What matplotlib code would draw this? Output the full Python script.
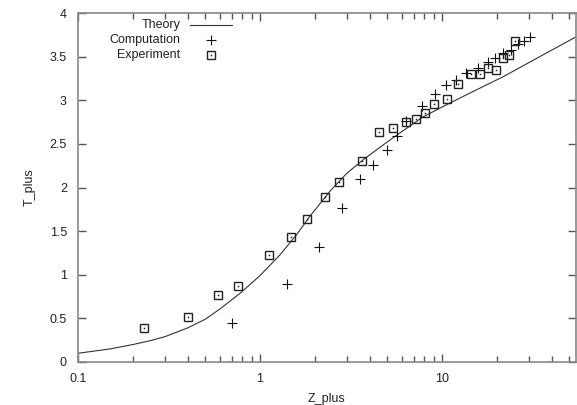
import matplotlib
matplotlib.use("Agg")
import matplotlib.pyplot as plt
from matplotlib.ticker import FixedLocator, LogLocator, NullFormatter, FixedFormatter

plt.rcParams["font.family"] = ["Liberation Sans", "DejaVu Sans"]

# theory curve
theory_z = [0.1, 0.15, 0.2, 0.25, 0.3, 0.4, 0.5, 0.6, 0.78, 1.0, 1.29, 1.59, 1.88, 2.43,
            2.99, 3.70, 4.56, 5.64, 7.88, 11.1, 16.2, 21.7, 33.1, 54.9]
theory_t = [0.10, 0.15, 0.20, 0.245, 0.29, 0.39, 0.49, 0.605, 0.79, 0.99, 1.23, 1.46, 1.67, 1.96,
            2.16, 2.32, 2.46, 2.60, 2.81, 2.97, 3.14, 3.27, 3.48, 3.73]

comp_z = [0.70, 1.41, 2.11, 2.83, 3.54, 4.18, 4.99, 5.66, 6.34, 7.76, 9.16, 10.5, 11.9,
          13.5, 15.8, 17.9, 19.5, 21.6, 23.9, 26.2, 28.3, 30.5]
comp_t = [0.45, 0.89, 1.32, 1.77, 2.10, 2.26, 2.43, 2.59, 2.76, 2.93, 3.07, 3.17, 3.23,
          3.31, 3.37, 3.44, 3.48, 3.54, 3.58, 3.64, 3.68, 3.72]

exp_z = [0.23, 0.40, 0.59, 0.76, 1.12, 1.48, 1.81, 2.28, 2.72, 3.63, 4.51, 5.38, 6.34, 7.19,
         8.07, 9.04, 10.6, 12.2, 14.4, 16.2, 17.9, 19.8, 21.6, 23.3, 25.2]
exp_t = [0.39, 0.52, 0.77, 0.87, 1.23, 1.43, 1.64, 1.89, 2.06, 2.30, 2.64, 2.68, 2.75, 2.79,
         2.85, 2.96, 3.01, 3.19, 3.30, 3.30, 3.37, 3.35, 3.48, 3.52, 3.68]

y_ticks = [0, 0.5, 1, 1.5, 2, 2.5, 3, 3.5, 4]
y_labels = ["0", "0.5", "1", "1.5", "2", "2.5", "3", "3.5", "4"]

fig = plt.figure(figsize=(5.77, 4.05), dpi=100)
ax = fig.add_axes([78 / 577, 1 - 362 / 405, 498 / 577, 349 / 405])

ax.plot(theory_z, theory_t, color="#333333", lw=0.8)
ax.plot(comp_z, comp_t, ls="none", marker="+", ms=7, mew=0.8, color="#111111")
ax.plot(exp_z, exp_t, ls="none", marker="s", ms=6.2, mfc="none", mec="#222222", mew=1.0)
ax.plot(exp_z, exp_t, ls="none", marker="s", ms=1.1, mew=0, color="#222222")

ax.set_xscale("log")
ax.set_xlim(0.1, 54.5)
ax.set_ylim(0, 4)

ax.xaxis.set_major_locator(FixedLocator([0.1, 1, 10]))
ax.xaxis.set_major_formatter(FixedFormatter(["0.1", "1", "10"]))
ax.xaxis.set_minor_locator(LogLocator(base=10, subs=range(2, 10)))
ax.xaxis.set_minor_formatter(NullFormatter())
ax.yaxis.set_major_locator(FixedLocator(y_ticks))
ax.yaxis.set_major_formatter(FixedFormatter(y_labels))

ax.tick_params(which="both", direction="in", top=True, right=True, colors="#555555",
               labelcolor="#222222", labelsize=9)
ax.tick_params(which="major", length=6, width=1)
ax.tick_params(which="minor", length=4, width=1)
ax.tick_params(axis="x", pad=8)
ax.tick_params(axis="y", pad=8)
for s in ax.spines.values():
    s.set_color("#888888")
    s.set_linewidth(1.2)

ax.set_xlabel("Z_plus", fontsize=9, color="#222222", labelpad=6)
ax.set_ylabel("T_plus", fontsize=9, color="#222222", labelpad=10)

# gnuplot-style key, labels right-aligned left of the samples
keys = [("Theory", "line"), ("Computation", "+"), ("Experiment", "s")]
for i, (lab, kind) in enumerate(keys):
    yk = 0.965 - i * 0.042
    ax.text(0.205, yk, lab, transform=ax.transAxes, ha="right", va="center",
            fontsize=9, color="#222222")
    if kind == "line":
        ax.plot([0.225, 0.31], [yk, yk], transform=ax.transAxes, color="#333333", lw=0.8)
    elif kind == "+":
        ax.plot([0.268], [yk], transform=ax.transAxes, marker="+", ms=7, mew=0.8, color="#111111")
    else:
        ax.plot([0.268], [yk], transform=ax.transAxes, marker="s", ms=6.2, mfc="none",
                mec="#222222", mew=1.0)
        ax.plot([0.268], [yk], transform=ax.transAxes, marker="s", ms=1.1, mew=0, color="#222222")

fig.savefig("out.png", dpi=100)
